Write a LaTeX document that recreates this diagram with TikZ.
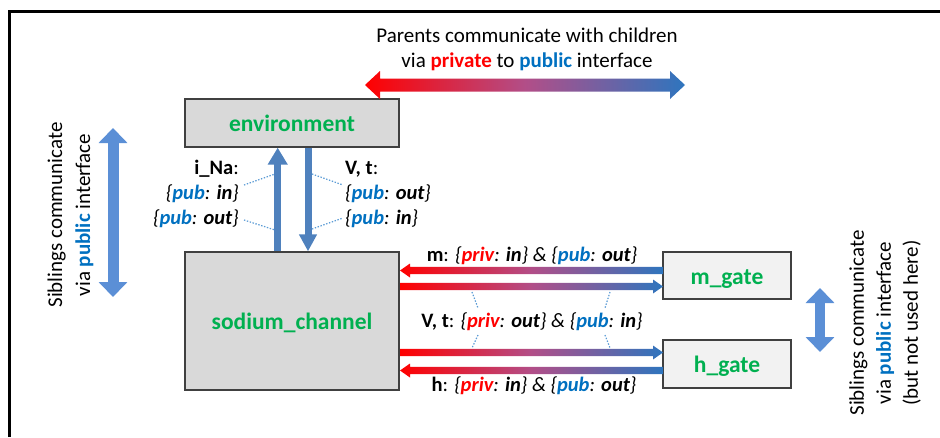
\documentclass[tikz,border=0pt]{standalone}
\usepackage{fontspec}
\setmainfont{Carlito}
\usetikzlibrary{arrows.meta,calc}
\definecolor{grn}{RGB}{0,176,80}
\definecolor{pubblue}{RGB}{0,112,192}
\definecolor{privred}{RGB}{255,0,0}
\definecolor{arBlue}{RGB}{46,117,190}
\definecolor{arRed}{RGB}{255,0,0}
\definecolor{arMid}{RGB}{178,78,136}
\definecolor{vblue}{RGB}{79,129,189}
\definecolor{sibblue}{RGB}{91,143,214}
\definecolor{dotblue}{RGB}{91,155,213}
\definecolor{boxgray}{RGB}{217,217,217}
\definecolor{gategray}{RGB}{242,242,242}
\definecolor{edgegray}{RGB}{64,64,64}
\newcommand\PUBw{\textbf{\color{pubblue}pub}}
\newcommand\PRIVw{\textbf{\color{privred}priv}}
\newcommand\brk[2]{{\itshape\{#1: \textbf{#2}\}}}
% gradient arrow pointing left: tip x, tail x, y
\newcommand\garrowL[3]{\shade[gshade] (#1,#3) -- (#1+10,#3-7) -- (#1+10,#3-3.7) -- (#2,#3-3.7) -- (#2,#3+3.7) -- (#1+10,#3+3.7) -- (#1+10,#3+7) -- cycle;}
% gradient arrow pointing right: tail x, tip x, y
\newcommand\garrowR[3]{\shade[gshade] (#2,#3) -- (#2-10,#3-7) -- (#2-10,#3-3.7) -- (#1,#3-3.7) -- (#1,#3+3.7) -- (#2-10,#3+3.7) -- (#2-10,#3+7) -- cycle;}
\begin{document}
\begin{tikzpicture}[x=1pt,y=-1pt,
  gshade/.style={left color=arRed, right color=arBlue, middle color=arMid},
  box/.style={draw=edgegray, line width=1.3pt, fill=boxgray, inner sep=0pt,
    text height=17pt, text depth=0pt,
    font=\fontsize{23.5}{28}\selectfont\bfseries, text=grn},
  gatebox/.style={box, fill=gategray},
  lbl/.style={inner sep=0pt, font=\fontsize{20.5}{24.5}\selectfont},
  vtext/.style={inner sep=0pt, rotate=90, align=center},
  dotl/.style={dotblue, line width=1.2pt, dash pattern=on 1.4pt off 1.6pt},
  fatv/.style={vblue, line width=7pt},
  sib/.style={sibblue, line width=11pt, {Triangle[width=28pt,length=15pt]}-{Triangle[width=28pt,length=15pt]}},
]
\useasboundingbox (0,0) rectangle (940,437);
\draw[line width=3pt] (9,437) -- (9,11) -- (940,11);

% boxes
\node[box, minimum width=214pt, minimum height=48pt] (env) at (292,123) {environment};
\node[box, minimum width=214pt, minimum height=138pt] (sc) at (292,321) {sodium\_channel};
\node[gatebox, minimum width=128pt, minimum height=47pt] (mg) at (727,275.5) {m\_gate};
\node[gatebox, minimum width=128pt, minimum height=48pt] (hg) at (727,364) {h\_gate};

% top text and arrow
\node[lbl, font=\fontsize{21}{25}\selectfont, anchor=base] (top1) at (527,42.3) {Parents communicate with children};
\node[lbl, font=\fontsize{21}{25}\selectfont, anchor=base] (top2) at (527,67.3) {via \textbf{\color{privred}private} to \textbf{\color{pubblue}public} interface};
\shade[gshade] (365,85) -- (380,71) -- (380,78.5) -- (670,78.5) -- (670,71) -- (685,85) -- (670,99) -- (670,91.5) -- (380,91.5) -- (380,99) -- cycle;

% vertical arrows between environment and sodium_channel
\draw[fatv, -{Triangle[width=19pt,length=17pt]}] ([xshift=-14.3pt]sc.north) -- ([xshift=-14.3pt]env.south);
\draw[fatv, -{Triangle[width=17pt,length=17pt]}] ([xshift=16pt]env.south) -- ([xshift=16pt]sc.north);

% left labels
\node[lbl, anchor=base east] (lina) at (239,174.5) {\textbf{i\_Na}:};
\node[lbl, anchor=base east] (lin) at (239,199.5) {\brk{\PUBw}{in}};
\node[lbl, anchor=base east] (lout) at (239,224.5) {\brk{\PUBw}{out}};
\node[lbl, anchor=base west] (rvt) at (345,174.5) {\textbf{V, t}:};
\node[lbl, anchor=base west] (rout) at (345,199.5) {\brk{\PUBw}{out}};
\node[lbl, anchor=base west] (rin) at (345,224.5) {\brk{\PUBw}{in}};
\draw[dotl] (244,185) -- (275,174);
\draw[dotl] (244,220) -- (275,230);
\draw[dotl] (312,174) -- (343,185);
\draw[dotl] (312,229) -- (343,218);

% horizontal gradient arrows
\garrowL{400}{663}{270.5}
\garrowR{400}{663}{286.5}
\garrowR{400}{663}{352.5}
\garrowL{400}{663}{370.5}

\node[lbl, anchor=base] (mlab) at (532,261.5) {\textbf{m}: \brk{\PRIVw}{in} {\itshape\&} \brk{\PUBw}{out}};
\node[lbl, anchor=base] (vtlab) at (532,327.5) {\textbf{V, t}: \brk{\PRIVw}{out} {\itshape\&} \brk{\PUBw}{in}};
\node[lbl, anchor=base] (hlab) at (534,391.5) {\textbf{h}: \brk{\PRIVw}{in} {\itshape\&} \brk{\PUBw}{out}};
\draw[dotl] (472,292) -- (478,308);
\draw[dotl] (610,292) -- (605,308);
\draw[dotl] (478,335) -- (472,348);
\draw[dotl] (605,335) -- (610,348);

% siblings (left)
\node[vtext, font=\fontsize{21}{28}\selectfont] (sibL) at (70.5,215) {Siblings communicate\\via \textbf{\color{pubblue}public} interface};
\coordinate (sl1) at (113,128);
\coordinate (sl2) at (113,297);
\draw[sib] (sl1) -- (sl2);

% siblings (right)
\node[vtext, font=\fontsize{21}{27}\selectfont] (sibR) at (885,323) {Siblings communicate\\via \textbf{\color{pubblue}public} interface\\(but not used here)};
\coordinate (sr1) at (820,288);
\coordinate (sr2) at (820,352);
\draw[sib, line width=10pt] (sr1) -- (sr2);
\end{tikzpicture}
\end{document}
